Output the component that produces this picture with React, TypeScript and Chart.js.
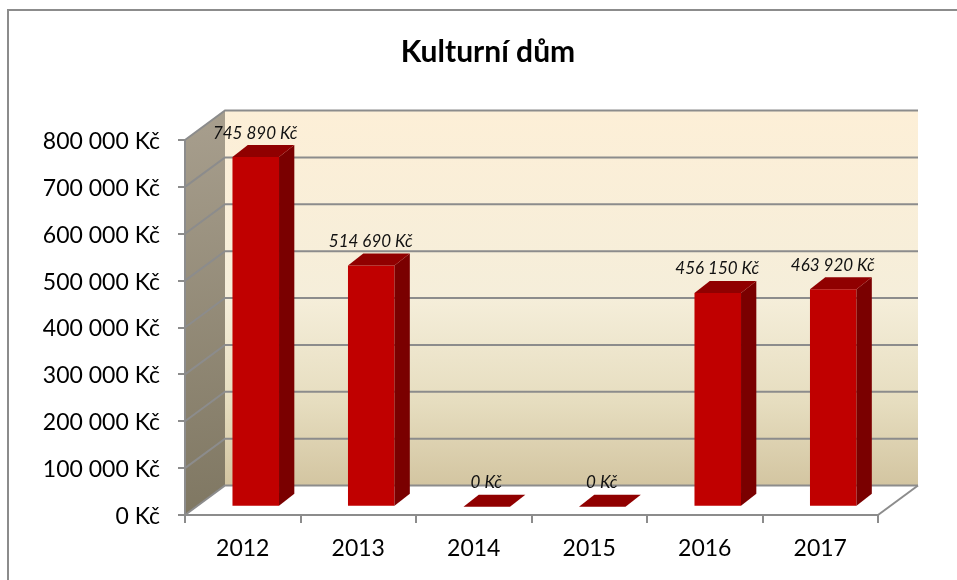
import React, { useEffect, useRef } from "react";
import { Chart, registerables } from "chart.js";

Chart.register(...registerables);

const years = ["2012", "2013", "2014", "2015", "2016", "2017"];
const costs = [745890, 514690, 0, 0, 456150, 463920];
const chartTitle = "Kulturní dům";
const axisMax = 800000;
const axisStep = 100000;

const FONT = "Lato, Carlito, 'Open Sans', sans-serif";
const GRID = "#8c8c8c";
const WALL = { dx: 40, dy: -29.5 };
const BAR_SHIFT = { dx: 13, dy: -8.3 };
const BAR_DEPTH = { dx: 15.3, dy: -12 };

const money = (v: number) =>
  String(v).replace(/\B(?=(\d{3})+(?!\d))/g, " ") + " Kč";

const scene = {
  id: "scene",
  afterLayout(chart: any) {
    // tick labels are clipped to the scale box: let it reach the canvas edge
    chart.scales.y.left = 0;
  },
  beforeDraw(chart: any) {
    const { ctx, chartArea: a, scales } = chart;
    const y = scales.y;
    ctx.save();
    ctx.fillStyle = "#ffffff";
    ctx.fillRect(0, 0, chart.width, chart.height);

    // outer chart frame
    ctx.strokeStyle = GRID;
    ctx.lineWidth = 2;
    ctx.beginPath();
    ctx.moveTo(8, chart.height + 2);
    ctx.lineTo(8, 10);
    ctx.lineTo(chart.width + 2, 10);
    ctx.stroke();

    // left wall
    const lg = ctx.createLinearGradient(a.left, a.top + WALL.dy, a.left + WALL.dx, a.bottom);
    lg.addColorStop(0, "#a89f8e");
    lg.addColorStop(1, "#7f7762");
    ctx.fillStyle = lg;
    ctx.beginPath();
    ctx.moveTo(a.left, a.top);
    ctx.lineTo(a.left + WALL.dx, a.top + WALL.dy);
    ctx.lineTo(a.left + WALL.dx, a.bottom + WALL.dy);
    ctx.lineTo(a.left, a.bottom);
    ctx.closePath();
    ctx.fill();

    // back wall
    const bg = ctx.createLinearGradient(0, a.top + WALL.dy, 0, a.bottom + WALL.dy);
    bg.addColorStop(0, "#fdefd7");
    bg.addColorStop(0.5, "#f5eeda");
    bg.addColorStop(0.78, "#e6ddbf");
    bg.addColorStop(1, "#d3c5a1");
    ctx.fillStyle = bg;
    ctx.fillRect(a.left + WALL.dx, a.top + WALL.dy, a.right - a.left, a.bottom - a.top);

    // gridlines wrapping the walls
    ctx.strokeStyle = GRID;
    ctx.lineWidth = 2;
    y.ticks.forEach((t: any) => {
      const py = y.getPixelForValue(t.value);
      ctx.beginPath();
      ctx.moveTo(a.left, py);
      ctx.lineTo(a.left + WALL.dx, py + WALL.dy);
      ctx.lineTo(a.right + WALL.dx, py + WALL.dy);
      ctx.stroke();
    });
    // right floor edge
    ctx.beginPath();
    ctx.moveTo(a.right, a.bottom);
    ctx.lineTo(a.right + WALL.dx, a.bottom + WALL.dy);
    ctx.stroke();
    ctx.restore();
  },
  beforeDatasetsDraw(chart: any) {
    chart.ctx.save();
    chart.ctx.translate(BAR_SHIFT.dx, BAR_SHIFT.dy);
  },
  afterDatasetsDraw(chart: any) {
    const { ctx } = chart;
    const meta = chart.getDatasetMeta(0);
    meta.data.forEach((el: any, i: number) => {
      const l = el.x - el.width / 2;
      const r = el.x + el.width / 2;
      const top = el.y;
      const base = el.base;
      // side face
      if (base - top > 0.5) {
        ctx.fillStyle = "#7a0000";
        ctx.beginPath();
        ctx.moveTo(r, top);
        ctx.lineTo(r + BAR_DEPTH.dx, top + BAR_DEPTH.dy);
        ctx.lineTo(r + BAR_DEPTH.dx, base + BAR_DEPTH.dy);
        ctx.lineTo(r, base);
        ctx.closePath();
        ctx.fill();
      }
      // top face
      ctx.fillStyle = "#900000";
      ctx.beginPath();
      ctx.moveTo(l, top);
      ctx.lineTo(l + BAR_DEPTH.dx, top + BAR_DEPTH.dy);
      ctx.lineTo(r + BAR_DEPTH.dx, top + BAR_DEPTH.dy);
      ctx.lineTo(r, top);
      ctx.closePath();
      ctx.fill();
      // value label
      ctx.fillStyle = "#111111";
      ctx.font = `italic 17px ${FONT}`;
      ctx.textAlign = "center";
      ctx.textBaseline = "middle";
      ctx.fillText(money(costs[i]), el.x - 0.5, top - 24);
    });
    ctx.restore();
  },
};

export default function App() {
  const ref = useRef<HTMLCanvasElement>(null);
  useEffect(() => {
    const chart = new Chart(ref.current as HTMLCanvasElement, {
      type: "bar",
      data: {
        labels: years,
        datasets: [
          {
            data: costs,
            backgroundColor: "#c00000",
            borderWidth: 0,
            barPercentage: 0.403,
            categoryPercentage: 1,
          },
        ],
      },
      options: {
        responsive: false,
        animation: false,
        layout: { padding: { left: 98, right: 79, top: 0, bottom: 0 } },
        plugins: {
          legend: { display: false },
          tooltip: { enabled: false },
          title: {
            display: true,
            text: chartTitle,
            color: "#000000",
            font: { family: FONT, size: 30, weight: "bold" },
            padding: { top: 34, bottom: 70 },
          },
        },
        scales: {
          x: {
            afterFit(s: any) {
              s.height = 65;
            },
            border: { display: true, color: GRID, width: 2 },
            grid: {
              drawOnChartArea: false,
              drawTicks: true,
              tickLength: 8,
              color: GRID,
              lineWidth: 2,
            },
            ticks: {
              color: "#000000",
              font: { family: FONT, size: 23 },
              padding: 12,
              maxRotation: 0,
            },
          },
          y: {
            min: 0,
            max: axisMax,
            afterFit(s: any) {
              s.width = 87;
            },
            border: { display: true, color: GRID, width: 2 },
            grid: {
              drawOnChartArea: false,
              drawTicks: true,
              tickLength: 7,
              color: GRID,
              lineWidth: 2,
            },
            ticks: {
              stepSize: axisStep,
              color: "#000000",
              font: { family: FONT, size: 23 },
              padding: 18,
              labelOffset: 1.5,
              callback: (v: any) => money(Number(v)),
            },
          },
        },
      },
      plugins: [scene],
    } as any);
    return () => chart.destroy();
  }, []);
  return (
    <div style={{ position: "fixed", left: 0, top: 0 }}>
      <canvas ref={ref} width={957} height={580} style={{ display: "block" }} />
    </div>
  );
}
